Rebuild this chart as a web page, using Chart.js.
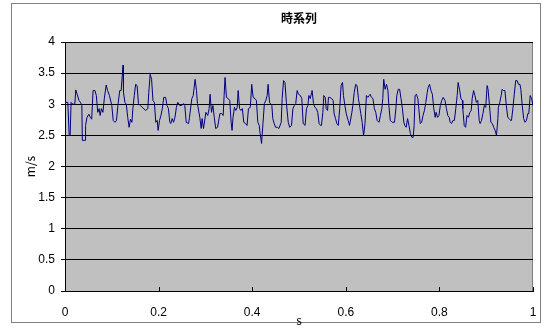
<!DOCTYPE html>
<html>
<head>
<meta charset="utf-8">
<script src="https://cdn.jsdelivr.net/npm/chart.js@4.4.1/dist/chart.umd.min.js"></script>
<style>
    html, body { margin: 0; padding: 0; background: #fff; }
    #wrap { width: 549px; height: 331px; position: relative; }
</style>
</head>
<body>
<div id="wrap"><canvas id="seriesChart"></canvas></div>
<script>
// Chart data
const chartTitle = '時系列';
const xTitle = 's';
const yTitle = 'm/s';
const xTicks = [0, 0.2, 0.4, 0.6, 0.8, 1];
const yTicks = [0, 0.5, 1, 1.5, 2, 2.5, 3, 3.5, 4];

const times = [
    0, 0.006, 0.009, 0.011, 0.013, 0.017, 0.021, 0.023, 0.026, 0.030, 0.033, 0.036, 0.037, 0.043, 0.044,
    0.047, 0.051, 0.054, 0.057, 0.060, 0.064, 0.067, 0.070, 0.073, 0.075, 0.078, 0.081, 0.084, 0.088, 0.091,
    0.095, 0.100, 0.103, 0.107, 0.110, 0.113, 0.117, 0.120, 0.124, 0.125, 0.128, 0.131, 0.134, 0.137, 0.140,
    0.143, 0.145, 0.148, 0.151, 0.154, 0.157, 0.161, 0.165,
    0.167, 0.172, 0.177, 0.179, 0.182, 0.185, 0.188, 0.191, 0.194, 0.197, 0.199, 0.202, 0.205, 0.208, 0.211,
    0.215, 0.218, 0.221, 0.224, 0.226, 0.229, 0.232, 0.235, 0.238, 0.241, 0.245, 0.249, 0.254, 0.256, 0.259,
    0.264, 0.266, 0.271, 0.274, 0.278, 0.281, 0.283, 0.288, 0.291, 0.293, 0.296, 0.301, 0.305, 0.308, 0.310,
    0.313, 0.316, 0.319, 0.322, 0.326, 0.331, 0.335,
    0.338, 0.340, 0.342, 0.345, 0.349, 0.352, 0.355, 0.357, 0.359, 0.362, 0.365, 0.368, 0.370, 0.373, 0.376,
    0.379, 0.382, 0.386, 0.389, 0.392, 0.396, 0.399, 0.402, 0.406, 0.409, 0.412, 0.415, 0.417, 0.420, 0.423,
    0.426, 0.429, 0.432, 0.434, 0.437, 0.442, 0.444, 0.447, 0.450, 0.454, 0.457, 0.462, 0.464, 0.467, 0.470,
    0.473, 0.477, 0.480, 0.484, 0.487, 0.490, 0.493, 0.496, 0.499, 0.503, 0.506,
    0.509, 0.513, 0.516, 0.519, 0.521, 0.524, 0.527, 0.528, 0.531, 0.534, 0.537, 0.540, 0.543, 0.546, 0.548,
    0.551, 0.553, 0.556, 0.558, 0.561, 0.563, 0.566, 0.570, 0.573, 0.575, 0.578, 0.581, 0.584, 0.587, 0.590,
    0.593, 0.595, 0.598, 0.601, 0.605, 0.608, 0.613, 0.615, 0.618, 0.621, 0.624, 0.627, 0.630, 0.632, 0.635,
    0.638, 0.641, 0.644, 0.647, 0.650, 0.652, 0.655, 0.658, 0.661, 0.664, 0.667, 0.671, 0.674, 0.677, 0.679,
    0.681, 0.684, 0.687, 0.690, 0.692, 0.695, 0.699, 0.704, 0.707, 0.709, 0.712, 0.715, 0.718, 0.721, 0.724,
    0.726, 0.729, 0.732, 0.735, 0.738, 0.741, 0.744, 0.746, 0.748, 0.751, 0.754, 0.756, 0.759, 0.762, 0.765,
    0.768, 0.771, 0.774, 0.776, 0.779, 0.782, 0.785, 0.788, 0.791, 0.793, 0.796, 0.799, 0.802, 0.805, 0.808,
    0.812, 0.815, 0.818, 0.821, 0.823, 0.826, 0.829, 0.832, 0.835, 0.838, 0.840, 0.843, 0.846, 0.849,
    0.850, 0.853, 0.856, 0.859, 0.862, 0.865, 0.868, 0.870, 0.873, 0.876, 0.879, 0.882, 0.885, 0.887, 0.890,
    0.893, 0.896, 0.899, 0.902, 0.904, 0.907, 0.910, 0.913, 0.916, 0.919, 0.922, 0.925, 0.926, 0.929, 0.932,
    0.934, 0.937, 0.940, 0.943, 0.946, 0.949, 0.952, 0.954, 0.957, 0.960, 0.963, 0.966, 0.969, 0.972, 0.974,
    0.977, 0.980, 0.983, 0.986, 0.989, 0.991, 0.994, 0.997, 1.000
];

const speeds = [
    3.03, 3.03, 2.50, 2.50, 3.03, 3.00, 3.00, 3.23, 3.16, 3.06, 3.03, 2.98, 2.42, 2.42, 2.66,
    2.79, 2.84, 2.79, 2.76, 3.22, 3.22, 3.14, 2.87, 2.93, 2.82, 2.93, 2.87, 3.09, 3.31, 3.22,
    3.14, 2.98, 2.74, 2.71, 2.74, 2.98, 3.22, 3.22, 3.63, 3.19, 3.03, 3.00, 2.79, 2.63, 2.76,
    2.71, 2.93, 3.14, 3.32, 3.30, 3.01, 2.98, 2.95,
    2.94, 2.90, 2.93, 3.19, 3.48, 3.40, 3.06, 3.03, 2.71, 2.74, 2.58, 2.74, 2.82, 2.93, 3.11,
    3.11, 2.98, 2.93, 2.71, 2.69, 2.77, 2.71, 2.79, 2.95, 3.03, 2.98, 2.98, 3.01, 2.98, 2.71,
    2.69, 2.79, 3.09, 3.14, 3.40, 3.22, 3.01, 2.79, 2.61, 2.77, 2.61, 2.87, 2.82, 2.93, 3.16,
    2.87, 2.98, 2.79, 2.61, 2.63, 2.85, 2.85,
    2.82, 3.14, 3.43, 3.11, 3.09, 3.06, 2.71, 2.58, 2.79, 2.95, 2.90, 2.95, 3.22, 2.93, 2.90,
    2.93, 2.71, 2.69, 2.66, 2.93, 2.95, 3.32, 3.11, 3.09, 3.06, 2.71, 2.66, 2.53, 2.37, 2.69,
    3.01, 3.06, 3.14, 3.32, 3.03, 2.98, 2.77, 2.69, 2.63, 2.63, 2.61, 2.71, 3.09, 3.38, 3.35,
    3.03, 2.71, 2.63, 2.66, 2.93, 2.98, 3.01, 3.22, 3.16, 3.14, 3.09,
    2.69, 2.66, 2.93, 2.98, 3.14, 3.09, 3.19, 3.22, 3.01, 2.95, 2.93, 2.87, 2.69, 2.66, 2.66,
    2.87, 3.14, 3.11, 2.93, 2.90, 3.11, 3.11, 3.09, 3.06, 2.85, 2.77, 2.69, 2.66, 2.93, 3.30,
    3.35, 3.14, 2.98, 2.85, 2.74, 2.66, 2.87, 2.98, 3.19, 3.32, 3.30, 3.09, 2.95, 2.85, 2.71,
    2.49, 2.69, 3.14, 3.11, 3.14, 3.16, 3.11, 3.09, 2.93, 2.87, 2.74, 2.71, 2.82, 2.93, 3.09,
    3.40, 3.24, 3.32, 3.22, 2.98, 2.74, 2.71, 2.71, 2.93, 3.14, 3.24, 3.24, 3.09, 2.93, 2.71,
    2.66, 2.63, 2.77, 2.66, 2.53, 2.47, 2.47, 2.66, 3.14, 3.16, 3.09, 2.93, 2.69, 2.71, 2.82,
    2.90, 3.03, 3.19, 3.27, 3.32, 3.22, 3.16, 2.93, 2.79, 2.87, 2.79, 2.82, 2.98, 3.06, 3.11,
    3.06, 2.93, 2.82, 2.79, 2.71, 2.69, 2.74, 2.74, 2.93, 3.14, 3.35, 3.24, 3.09, 3.06,
    2.93, 2.66, 2.63, 2.82, 2.79, 2.87, 2.90, 3.09, 3.22, 3.14, 3.03, 3.06, 2.74, 2.69, 2.74,
    2.85, 2.98, 2.95, 3.30, 3.24, 2.98, 2.71, 2.69, 2.63, 2.58, 2.50, 2.77, 2.95, 3.03, 3.14,
    3.24, 3.22, 3.22, 2.98, 2.79, 2.77, 2.74, 2.74, 2.93, 3.16, 3.38, 3.38, 3.32, 3.32, 3.24,
    2.98, 2.77, 2.71, 2.74, 2.85, 2.85, 3.14, 3.09, 2.98
];

const points = times.map((t, i) => ({ x: t, y: speeds[i] }));

// Frame, plot background, inner tick marks and all text labels
const excelFrame = {
    id: 'excelFrame',
    beforeDraw(chart) {
        const { ctx, chartArea: a } = chart;
        ctx.save();
        ctx.fillStyle = '#ffffff';
        ctx.fillRect(0, 0, chart.width, chart.height);
        ctx.strokeStyle = '#808080';
        ctx.lineWidth = 1;
        ctx.strokeRect(11.5, 3.5, 529, 319);
        ctx.fillStyle = '#c0c0c0';
        ctx.fillRect(a.left, a.top, a.right - a.left, a.bottom - a.top);
        ctx.strokeRect(a.left + 0.5, a.top + 0.5, a.right - a.left - 1, a.bottom - a.top);
        ctx.restore();
    },
    afterDraw(chart) {
        const { ctx, chartArea: a, scales } = chart;
        ctx.save();
        ctx.strokeStyle = '#000';
        ctx.lineWidth = 1;
        xTicks.forEach(v => {
            const x = Math.round(scales.x.getPixelForValue(v)) + 0.5;
            ctx.beginPath();
            ctx.moveTo(x, a.bottom);
            ctx.lineTo(x, a.bottom - 4);
            ctx.stroke();
        });
        ctx.fillStyle = '#000';
        ctx.textAlign = 'center';
        ctx.textBaseline = 'middle';
        ctx.font = 'bold 12px "Noto Sans CJK JP"';
        ctx.fillText(chartTitle, (a.left + a.right) / 2, 18);
        ctx.font = '12px "Noto Sans CJK JP"';
        ctx.fillText(xTitle, (a.left + a.right) / 2, 320);
        ctx.translate(30, (a.top + a.bottom) / 2);
        ctx.rotate(-Math.PI / 2);
        ctx.fillText(yTitle, 0, 0);
        ctx.restore();
    }
};

new Chart(document.getElementById('seriesChart'), {
    type: 'line',
    data: {
        datasets: [{
            data: points,
            borderColor: '#000080',
            borderWidth: 1,
            pointRadius: 0,
            tension: 0,
            fill: false
        }]
    },
    options: {
        responsive: true,
        maintainAspectRatio: false,
        animation: false,
        layout: {
            padding: { top: 42, right: 16, left: 0, bottom: 0 }
        },
        plugins: {
            legend: { display: false },
            tooltip: { enabled: false }
        },
        scales: {
            x: {
                type: 'linear',
                min: 0,
                max: 1,
                afterBuildTicks: scale => { scale.ticks = xTicks.map(v => ({ value: v })); },
                afterFit: scale => {
                    scale.height = 40;
                    scale.paddingLeft = 0;
                    scale.paddingRight = 0;
                },
                grid: { display: false, drawTicks: false },
                border: { color: '#000', width: 1 },
                ticks: {
                    padding: 14,
                    color: '#000',
                    font: { family: 'Liberation Sans', size: 12 },
                    maxRotation: 0,
                    callback: v => String(v)
                }
            },
            y: {
                min: 0,
                max: 4,
                afterBuildTicks: scale => { scale.ticks = yTicks.map(v => ({ value: v })); },
                afterFit: scale => {
                    scale.width = 65;
                    scale.paddingTop = 0;
                    scale.paddingBottom = 0;
                },
                grid: { color: '#000', lineWidth: 1, tickLength: 4 },
                border: { color: '#000', width: 1 },
                ticks: {
                    padding: 6,
                    color: '#000',
                    font: { family: 'Liberation Sans', size: 12 },
                    callback: v => String(v)
                }
            }
        }
    },
    plugins: [excelFrame]
});
</script>
</body>
</html>
